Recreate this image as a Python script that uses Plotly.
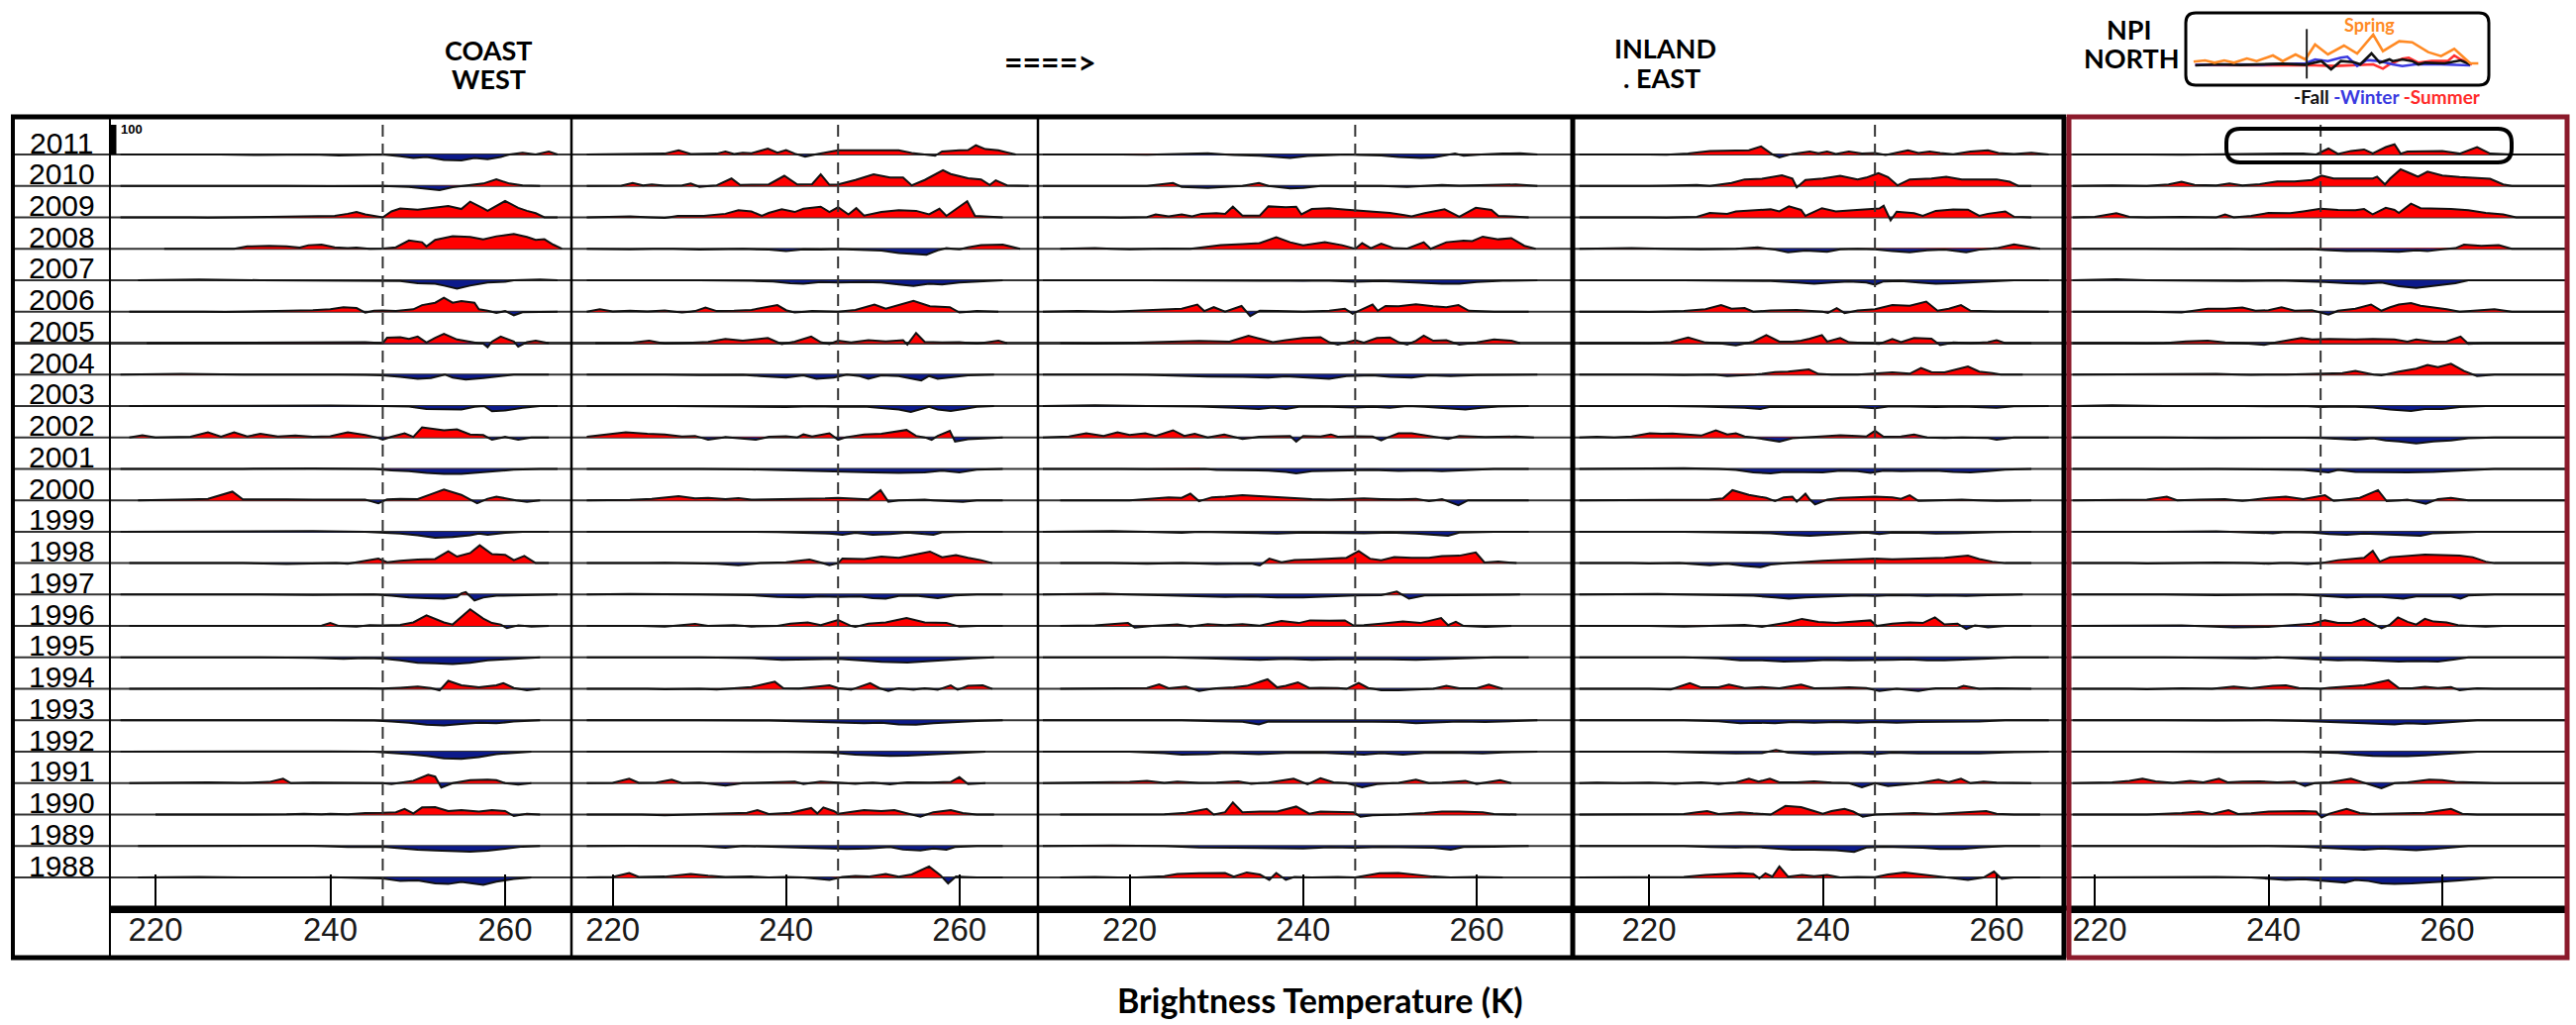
import numpy as np
import plotly.graph_objects as go

W, H = 2601, 1035
YEARS = list(range(2011, 1987, -1))
TICKS = [220, 240, 260]
DASH_T = 246
SCALE_BAR = 100

# ---------------- data: anomaly knots (temperature K, value) per year ----------------
COAST_WEST = {
2011: [(216,0),(225,1),(232,-2),(238,0),(241,-3),(244,0),(246,0),(248,-6),(249.5,-12),(251,-8),(253,-18),(255,-20),(256.5,-12),(258,-16),(259.5,-8),(260.5,0),(262,6),(263.5,0),(265,10),(266,0)],
2010: [(216,0),(230,1),(240,-1),(246,0),(249,-3),(251,-10),(252.5,-14),(254,-4),(256,2),(257.5,8),(259,22),(260.5,8),(262,2),(264,0)],
2009: [(216,0),(222,1),(226,-1),(230,1),(234,2),(237,4),(239,3),(240.5,5),(242,12),(243,18),(244,10),(245.5,4),(246,0),(247,20),(248,30),(250,26),(252,32),(253.5,38),(255,28),(256,53),(257.5,30),(258,22),(260,55),(261.5,32),(262.5,22),(263.5,14),(264.5,0),(266,0)],
2008: [(221,0),(226,1),(229,0),(230.5,8),(233,10),(235,8),(236.5,4),(237.5,12),(239,14),(240.5,5),(242,2),(243,4),(244.5,0),(246,1),(247.5,5),(249,28),(250.5,22),(251,8),(252,30),(254,42),(256,40),(257.5,32),(259,42),(261,50),(262.5,40),(263.5,30),(264.5,32),(265.5,14),(266.5,0)],
2007: [(218,0),(225,2),(232,0),(240,-2),(246,-1),(248,-3),(250,-10),(252,-12),(253,-18),(254.5,-28),(256,-18),(258,-8),(260,-5),(261,0),(264,2),(266,0)],
2006: [(217,0),(223,1),(228,-1),(233,1),(235.5,3),(238,5),(240,8),(241.5,15),(243,12),(244,-3),(245,3),(246,4),(247.5,2),(249.5,8),(250.5,22),(252,30),(253,47),(254,30),(255,36),(256.5,30),(257,8),(258,3),(259,-4),(260,2),(261,-12),(262,-2),(264,0),(266,0)],
2005: [(219,0),(225,1),(230,2),(233,3),(236,1),(239,3),(242,2),(244,3),(246,0),(246.5,18),(248,20),(249,14),(250,22),(251,2),(252,18),(253,31),(254.5,12),(256,3),(257.5,-2),(258,-14),(258.5,5),(259.5,22),(261,5),(261.5,-12),(262.5,3),(263.5,8),(265,0)],
2004: [(216,0),(223,2),(230,0),(238,1),(244,-1),(246,-3),(248,-8),(250,-14),(251.5,-12),(253,1),(254,-10),(255.5,-17),(257.5,-12),(259.5,-5),(261,0),(265,0)],
2003: [(217,0),(225,1),(232,0),(240,1),(246,0),(249,-2),(251,-10),(253,-12),(255,-12),(256.5,-3),(257.5,2),(258.5,-18),(260,-15),(262,-6),(264,0),(266,0)],
2002: [(217,0),(218.5,7),(220,0),(224,2),(226,17),(227.5,2),(229,17),(230.5,3),(232,12),(234,3),(236,6),(238,2),(240,4),(242,17),(244,8),(245,3),(246,-8),(247,2),(248.5,14),(249.5,2),(250.5,34),(252,28),(253,24),(254.5,27),(256,10),(257.5,8),(258.5,-8),(260,2),(261.5,-8),(263,0),(265,0)],
2001: [(216,0),(222,1),(230,0),(238,1),(245,0),(247,-5),(249,-8),(251,-14),(253,-17),(255,-17),(257,-12),(259,-7),(261,-3),(264,0),(266,0)],
2000: [(218,0),(221.5,1),(224,3),(226,5),(228.8,29),(230,3),(232,2),(235,3),(238,2),(241,3),(244,2),(245.5,-10),(246.5,3),(248,5),(250,4),(251.5,20),(253,36),(255,18),(256,3),(256.8,-10),(258,5),(259,12),(260.5,3),(262.5,-5),(264,0)],
1999: [(216,0),(224,1),(230,0),(238,2),(244,0),(246,-2),(248,-6),(250,-12),(252,-20),(254,-18),(256,-12),(257,-6),(258,-10),(260,-4),(262,0),(265,0)],
1998: [(217,0),(223,1),(230,0),(235,-3),(240,1),(242,-2),(244.5,10),(245.5,15),(246.5,3),(248,8),(250,12),(252,14),(253.5,40),(254.5,22),(256,34),(257.1,60),(258.5,30),(260,28),(261,10),(262.2,24),(263.5,0),(265,0)],
1997: [(216,0),(225,1),(232,0),(238,-1),(242,1),(245,0),(247,-4),(249,-10),(251,-12),(253,-14),(254.5,-8),(255,4),(255.5,8),(256.5,-20),(257.5,-10),(259,-4),(261,-3),(264,0),(266,0)],
1996: [(217,0),(224,1),(230,0),(236,2),(239,1),(240,10),(241,0),(243,-2),(244.5,3),(246,2),(248,4),(249.5,12),(251,36),(253,12),(254,5),(256,56),(257.5,25),(258.5,10),(259.5,5),(260.2,-7),(261.5,2),(263,-2),(265,0)],
1995: [(216,0),(225,1),(232,0),(238,-1),(241.5,-5),(244,-2),(246,-4),(248,-10),(250,-18),(252,-20),(254,-22),(256,-18),(258,-10),(260,-6),(262,-2),(264,0)],
1994: [(217,0),(223,1),(228,0),(233,2),(236,1),(240,2),(244,2),(246,1),(248,4),(250,8),(251.5,3),(252.5,-5),(253.5,27),(255,12),(257,5),(259,12),(259.8,19),(261,3),(262.5,-5),(264,0)],
1993: [(216,0),(225,1),(232,0),(240,0),(245,-1),(247,-4),(249,-8),(251,-15),(253,-17),(255,-12),(257,-8),(259,-10),(261,-4),(264,0)],
1992: [(216,0),(225,1),(232,0),(240,1),(245,0),(247,-3),(249,-8),(251,-14),(253,-22),(255,-24),(257,-18),(259,-8),(261,-3),(263,0)],
1991: [(217,0),(222,2),(226,3),(230,1),(233,4),(234.6,15),(235.5,0),(238,2),(241,1),(244,2),(246,0),(247,-3),(248,2),(249.5,8),(251.2,28),(252,22),(252.7,-15),(254,0),(256,10),(258,12),(259,10),(260,0),(261.5,-5),(263,0)],
1990: [(220,0),(225,-1),(230,0),(235,1),(237,3),(239,1),(240,3),(242,1),(244,5),(246,6),(247.5,8),(248.5,19),(249.5,4),(250.5,24),(252,25),(253.5,12),(255,15),(257,10),(258.5,15),(260,12),(261,-5),(262.5,3),(264,0)],
1989: [(218,0),(225,1),(232,0),(238,1),(242,-3),(246,-2),(248,-8),(250,-12),(252,-15),(254,-18),(256,-19),(258,-16),(260,-8),(262,-2),(264,0)],
1988: [(218,0),(225,2),(230,0),(236,-1),(240,1),(244,0),(246,-3),(248,-12),(250,-10),(252,-20),(253.5,-22),(255,-15),(257.5,-25),(259,-14),(261,-5),(263,0)],
}

CENTRAL_1 = {
2011: [(217,0),(222,2),(226,3),(227.6,14),(229,2),(232,3),(233,10),(234,2),(235,6),(236,4),(237.9,20),(239,6),(240,15),(241,3),(242.2,-7),(244,4),(246,14),(250,14),(253,14),(254.5,5),(256,0),(257.2,-4),(258,10),(260,14),(261,15),(261.9,31),(263,18),(264.5,14),(266.5,0)],
2010: [(217,0),(221,1),(222.3,10),(223.5,2),(224.5,5),(226,1),(228,2),(229,8),(230,-3),(232,2),(233.7,25),(234.7,3),(236,4),(238,5),(239.8,34),(241.3,5),(243,6),(244,39),(245,4),(246,5),(248,20),(250.1,39),(252,28),(253.5,28),(254.5,2),(256,20),(258.1,53),(259,40),(261,26),(262.5,22),(263.5,3),(264.2,19),(265.5,2),(268,0)],
2009: [(217,0),(222,3),(226,-2),(227.5,5),(230.5,5),(233,12),(234.5,24),(236,20),(237.2,5),(238,15),(239.5,27),(241,18),(242,29),(244,36),(245,18),(246,34),(247.2,10),(248.1,31),(249,6),(251,18),(253,24),(255,22),(256.5,10),(257.7,29),(258.5,5),(260.9,54),(261.8,5),(264,3),(265,0)],
2008: [(217,0),(222,-2),(226,1),(230,-3),(234,1),(238,-3),(240,-8),(242,-2),(244,-3),(246,-1),(249,-3),(251,-6),(253,-14),(255,-18),(256.2,-20),(257.5,-5),(258.5,2),(260,-2),(261,5),(262.5,12),(265,14),(267,0)],
2007: [(217,0),(224,1),(230,0),(236,-2),(238.5,-4),(240.5,-10),(242,-12),(244,-6),(246,-8),(249,-6),(251,-8),(253,-14),(254.7,-19),(256.5,-12),(258,-14),(260,-8),(261.5,-6),(263,-2),(265,0)],
2006: [(217,0),(218.5,8),(220,1),(222,3),(224,1),(226,4),(228,-3),(229.5,2),(230.7,14),(232,2),(234,3),(236,6),(239,22),(240,5),(241,-3),(243,2),(246,0),(248,6),(250.2,24),(251.5,10),(254.7,36),(256.6,18),(258.9,15),(260,-3),(262,2),(264.5,0)],
2005: [(218,0),(222,1),(224.2,8),(226,-2),(229,1),(231,4),(233,14),(235,8),(237.9,17),(239.5,-3),(241,5),(242.9,22),(244,3),(245,-3),(246,8),(247.5,2),(249.5,10),(251.5,6),(253.5,10),(254,-5),(255,34),(256,4),(258,2),(260,3),(262,-2),(264.5,8),(265.5,0)],
2004: [(217,0),(224,1),(230,-2),(235,-1),(237,-5),(240,-10),(242,-3),(243.5,-14),(245.5,-10),(247,0),(248.5,-5),(249.5,-14),(251,-3),(253,-5),(255.6,-20),(256.5,-5),(257.5,-14),(259,-10),(261,-3),(264,0)],
2003: [(217,0),(224,1),(230,-1),(236,-2),(240,-4),(243,-1),(246,-3),(249,-2),(251,-6),(253,-12),(254.4,-20),(255.5,-10),(256.5,-3),(257.5,-12),(259,-17),(260.5,-10),(262,-3),(264,0)],
2002: [(217,2),(219,8),(221.5,17),(224,12),(226,10),(228,3),(229.5,5),(231,-8),(233,1),(235,-3),(236.5,-8),(238,2),(240,4),(241.3,0),(242,10),(243,3),(245,14),(246,-8),(247,1),(249,10),(251,12),(253.9,25),(255,5),(256,0),(256.8,-8),(257.5,5),(258.9,22),(259.5,-14),(261,-6),(263,-2),(265,0)],
2001: [(217,0),(224,1),(230,0),(236,-2),(241,-5),(244,-6),(247,-10),(250,-12),(253,-14),(256,-12),(258,-6),(260,-12),(262,-3),(265,0)],
2000: [(217,0),(222,1),(224.5,5),(227.6,14),(229.5,6),(231,8),(233,4),(234.5,7),(236,2),(240,3),(242.5,5),(244.5,6),(246,8),(248,6),(249.5,3),(250.9,34),(251.8,-5),(253,0),(256,2),(258,-2),(260.4,-5),(262,0),(265,0)],
1999: [(217,0),(225,1),(232,0),(239,-1),(242,-3),(245,-6),(246.5,-10),(248,-4),(250,-10),(252,-8),(254,-3),(256,-6),(257,-10),(258,-2),(261,0),(265,0)],
1998: [(217,0),(222,-1),(226,1),(230,0),(232,-2),(234.5,-7),(237,0),(240,3),(242.7,12),(244,2),(245,-7),(246,0),(246.5,15),(249,14),(251,22),(253,18),(255,30),(256.6,39),(258,20),(259.6,27),(261,18),(262.5,10),(263.8,0)],
1997: [(217,0),(222,2),(230,0),(236,-2),(239,-8),(242,-10),(244,-6),(246,-8),(248.5,-6),(250,-12),(251.5,-14),(253,-5),(255,-4),(257.5,-12),(259.5,-3),(262,0),(265,0)],
1996: [(217,0),(222,1),(226,-2),(229.5,7),(231,0),(234,3),(236,-2),(239,0),(240.5,8),(242.5,12),(244,3),(246,20),(247.2,2),(248,-3),(249.5,8),(251.5,12),(253.9,27),(256,12),(258.5,10),(260,-2),(262,0),(265,0)],
1995: [(217,0),(224,1),(230,0),(236,-2),(239.5,-8),(243,-6),(246,-5),(248.5,-10),(251,-15),(254,-17),(256.5,-12),(259,-8),(261.5,-3),(264,0)],
1994: [(217,0),(222,1),(226,-1),(229,1),(232,-2),(234.5,2),(236,6),(238.7,24),(239.7,2),(241.5,1),(243.5,6),(245,12),(246,3),(247.5,-3),(249.7,19),(250.8,2),(251.8,-7),(253,2),(254.7,-3),(256,2),(257.5,-3),(259,12),(259.8,-3),(261,10),(262.7,12),(263.8,0)],
1993: [(217,0),(224,1),(230,0),(238,-1),(242,-3),(245,-6),(247,-8),(249,-10),(251,-8),(253,-14),(255,-15),(257,-10),(259.5,-5),(262,-2),(265,0)],
1992: [(217,0),(225,1),(232,0),(240,-1),(245,-2),(248,-10),(250,-13),(252,-14),(254,-13),(256,-10),(258,-5),(260,-3),(263,0)],
1991: [(217,0),(220,1),(221.9,15),(223,1),(225,2),(226.8,12),(228,0),(230,2),(233,-8),(235,0),(238,2),(241,5),(242,-3),(244,5),(246,2),(248,-2),(250,2),(252,-4),(254,3),(256.6,2),(259,4),(260,20),(261,-3),(263,0)],
1990: [(217,0),(222,1),(226,-2),(230,1),(233,2),(235.5,6),(236.7,15),(238,2),(240.5,6),(242.9,22),(243.6,4),(244.3,24),(245.5,12),(246,3),(249,15),(251,12),(252.5,15),(254.5,2),(255.5,-7),(257,8),(259,15),(260.4,5),(262,0),(264,0)],
1989: [(217,0),(222,1),(230,0),(233,-6),(235,0),(238,-2),(241,-5),(244,-7),(247,-10),(249.5,-8),(252,-3),(253.5,-12),(255.5,-15),(257,-8),(258.5,-12),(259.5,-3),(262,0),(265,0)],
1988: [(217,0),(220,2),(221.9,15),(223,2),(226,3),(229,12),(231,6),(233,2),(236,3),(238,0),(240,2),(242,0),(245,-8),(246.5,2),(248,5),(249.5,3),(251.5,12),(253,3),(254.5,10),(256.5,37),(257.8,8),(258.7,-20),(259.6,3),(260.5,2),(262,0),(265,0)],
}

CENTRAL_2 = {
2011: [(210,0),(216,1),(222,-1),(227,3),(229,4),(232,-2),(235,-4),(237,-10),(238.5,-12),(240.5,-5),(243,-3),(245,0),(246.5,-2),(249,-3),(251,-8),(253.6,-12),(255,-10),(256.5,-3),(257.5,3),(258.5,-4),(261,1),(263,3),(265,4),(267,0)],
2010: [(210,0),(216,1),(222,0),(225,10),(226,-3),(229,-7),(231,-3),(233,0),(234.9,10),(236,0),(238.5,-8),(240,-7),(242,0),(246,1),(249,0),(252,-3),(254,0),(256,3),(258,1),(261,3),(264.5,5),(267,0)],
2009: [(210,0),(215,1),(219,-1),(222,1),(223,10),(224.5,3),(226,10),(227.2,3),(228.3,12),(230,14),(231,12),(231.9,36),(233,6),(235,6),(236,37),(238,34),(239.2,36),(239.8,10),(241,28),(243,31),(245,26),(246,24),(248,18),(250,15),(251.5,8),(252.5,3),(254,14),(256.3,27),(258,2),(259.9,32),(261.7,25),(262.5,5),(264,3),(266,0)],
2008: [(212,0),(216,2),(220,-2),(224,1),(227,0),(228.5,6),(230.5,12),(233,16),(235,19),(236.9,39),(238.5,22),(240,12),(242.5,22),(244.5,12),(246,0),(246.8,19),(247.8,2),(249,17),(250.5,2),(252,1),(253.9,22),(254.7,0),(256.5,22),(258.5,27),(259.5,26),(260.7,41),(262.5,32),(264,36),(265.5,10),(266.8,0)],
2007: [(210,0),(216,1),(222,0),(228,-1),(235,-2),(240,-4),(243,-2),(246,-5),(249,-3),(251,-5),(254,-10),(256,-12),(258,-12),(260,-6),(263,-2),(267,0)],
2006: [(210,0),(214,2),(218,0),(221,3),(224,6),(226,10),(227.8,24),(228.6,2),(229.7,15),(231,0),(232.9,19),(233.9,-15),(235,3),(237,2),(240,0),(243,3),(244.8,10),(245.7,-7),(246.6,5),(248,24),(248.6,3),(249.5,19),(251,18),(253,25),(255,18),(256.5,15),(257.9,22),(259.1,3),(262,0),(266,0)],
2005: [(212,0),(216,-2),(220,1),(224,5),(228,7),(231.5,5),(233.7,25),(235,15),(236.5,3),(238,10),(240,17),(242,20),(243,3),(244,-5),(246,10),(247,2),(248.5,17),(250,19),(251,3),(252,-5),(253,8),(253.9,25),(255,8),(256.5,10),(258,-5),(260,2),(262,12),(264,8),(265,0)],
2004: [(210,0),(216,1),(222,-1),(226,-5),(229,-7),(233,-8),(236,-10),(238,-6),(241,-10),(243,-14),(245,-5),(248,-3),(250,-8),(252.5,-10),(254.5,-3),(257,-5),(260,-2),(264,-2),(267,0)],
2003: [(210,0),(216,2),(222,0),(228,-2),(232,-6),(234.9,-10),(236.5,-5),(238,-10),(239.5,-3),(242,-2),(246,-5),(248,-3),(250,-6),(252,0),(254,-3),(257.5,-10),(258.7,-12),(260.5,-6),(262.5,-2),(266,0)],
2002: [(210,0),(213,3),(215,14),(217,5),(218.6,17),(220,8),(221.8,14),(223,5),(225,24),(226.3,5),(227.5,12),(229,0),(230.9,10),(232,3),(233,-5),(234.9,2),(237,4),(238.5,5),(239.2,-14),(240,5),(242,3),(243.2,10),(244,2),(246,4),(248,3),(249,-10),(250,3),(251,14),(252.5,14),(254,8),(256.7,-5),(258,5),(261,1),(264.5,3),(266.6,0)],
2001: [(210,0),(216,1),(222,-1),(228,2),(230,-4),(233,-6),(236,-6),(238,-10),(239.2,-15),(241,-8),(244,-6),(246,-7),(248,-4),(251,-7),(254,-5),(256,-8),(259,-3),(262,0),(266,0)],
2000: [(212,0),(216,1),(220,0),(224.5,10),(226,8),(227,22),(228,-3),(229.5,10),(231,12),(233,17),(235,14),(237,10),(239,8),(241,4),(243,2),(245,5),(247,6),(249,4),(251,3),(253,5),(254.5,-3),(256,4),(257.9,-17),(259,0),(262,0),(266,0)],
1999: [(210,0),(218,2),(222,0),(226,-4),(228,0),(234,-3),(237,-6),(240,-3),(244,-4),(247,-5),(250,-3),(253,-6),(256.7,-14),(258,-3),(262,0),(266,0)],
1998: [(212,0),(216,1),(222,-2),(226,0),(230,-3),(234,-1),(235,-8),(236.1,15),(237.5,3),(239,10),(241,12),(243,14),(245,18),(246.4,41),(247.7,15),(249,10),(250.5,20),(252.5,18),(254.5,18),(256,24),(258,25),(259.9,36),(260.9,2),(262.5,5),(264.6,0)],
1997: [(210,0),(214,1),(217,3),(220,0),(225,-3),(228,-5),(231,-8),(234,-6),(237,-10),(240,-10),(243,-6),(246,-3),(249,-2),(250.8,10),(252.2,-14),(254,-3),(257,-2),(260,0),(265,0)],
1996: [(212,0),(216,2),(219.8,10),(220.6,-5),(223,1),(225.5,5),(227,-2),(229,6),(231,3),(233,6),(235,1),(237.5,17),(239.5,10),(240.8,19),(243,18),(244.8,19),(245.8,2),(247,3),(249,8),(251.5,15),(253.5,10),(255.9,27),(256.7,3),(257.6,14),(258.5,0),(261,-3),(264,0)],
1995: [(210,0),(218,1),(224,0),(229,-3),(232,-6),(235,-8),(238,-5),(241,-8),(244,-6),(247,-5),(250,-6),(253,-8),(256,-5),(259,-3),(262,0),(266,0)],
1994: [(212,0),(216,1),(220,0),(222,3),(223.4,15),(224.5,2),(226.5,8),(228,-7),(230,2),(232,5),(233.5,10),(235.9,32),(237,5),(238,10),(239.4,22),(240.7,3),(242,4),(244,3),(245,0),(246.4,20),(247.5,3),(249,-5),(251,-5),(253,-3),(255,0),(256.5,10),(258,2),(260,2),(261.4,14),(263,0)],
1993: [(210,0),(218,1),(222,2),(226,0),(230,-3),(233,-5),(234.9,-14),(236,-4),(239,-5),(242,-6),(245,-5),(248,-5),(251,-6),(253,-10),(255,-8),(258,-4),(261,-6),(264,-2),(267,0)],
1992: [(210,0),(216,1),(220,0),(224,-5),(226,-10),(229,-8),(231,-4),(234.9,-8),(238,-4),(242,-3),(245,-6),(247,-10),(249,-5),(251.5,-10),(254,-4),(257,-3),(260.7,-6),(263,-2),(267,0)],
1991: [(210,0),(214,2),(217,1),(220,4),(222,8),(224,1),(225.5,5),(228,1),(230,2),(232.5,6),(234,-2),(236,2),(238.9,15),(240.5,-4),(242,17),(243.5,3),(245,0),(246.8,-14),(248.5,-3),(251,1),(253,12),(254.5,0),(256,2),(258.7,8),(260,-3),(262.7,10),(264,0)],
1990: [(212,0),(216,1),(220,0),(224,1),(226.5,6),(228.9,19),(229.7,0),(231,8),(231.9,41),(233,8),(235,10),(237,10),(239.2,27),(240.7,3),(242,10),(244,10),(245.8,8),(246.6,-7),(248,-2),(251,0),(254,5),(256,10),(258,10),(260.7,8),(262,2),(264.6,0)],
1989: [(210,0),(218,2),(224,0),(228,-5),(232,-6),(236,-8),(240,-8),(243,-4),(246,-6),(249,-3),(252,-4),(255,-6),(257,-12),(258.5,-3),(262,-2),(266,0)],
1988: [(212,0),(216,2),(220,-1),(224,4),(225.5,12),(228,14),(231,15),(232,3),(233.5,17),(235,10),(236.1,-8),(236.9,15),(238,-8),(239,2),(241,0),(244,2),(246,0),(248.8,14),(251,15),(253,8),(255,3),(257,0),(260,2),(263,0)],
}

INLAND_EAST = {
2011: [(212,0),(218,1),(222,-1),(224.5,3),(227,12),(230,14),(231.5,14),(232.9,27),(234,3),(235,-10),(236.5,2),(238.5,10),(239.5,4),(240.5,10),(241.5,2),(243,10),(244.5,3),(246,5),(247.2,-2),(249.8,14),(251,5),(252.3,10),(253.5,5),(255,1),(257,10),(259,14),(260.2,5),(262,2),(264,6),(266,0)],
2010: [(212,0),(218,-1),(222,1),(225.5,3),(227,0),(229.5,10),(231,22),(233,24),(235.3,36),(236.5,25),(237,-5),(238,20),(240,25),(242,34),(244,22),(245,28),(246.4,43),(247.5,30),(248.6,2),(250,22),(252.5,25),(254.2,31),(256,22),(258,22),(260,22),(261.5,14),(262.5,0),(264,0)],
2009: [(212,0),(218,1),(222,-1),(225.5,2),(227,15),(229,12),(230,20),(232,24),(234,27),(235,20),(236.1,37),(237.5,25),(238,5),(239.9,31),(241.5,20),(243.5,24),(245.5,28),(246.5,30),(247,39),(247.8,-10),(248.5,19),(250.5,14),(251.5,5),(253,22),(255,27),(256.7,26),(258,5),(259,12),(261,20),(262,2),(264,0)],
2008: [(212,0),(218,2),(222,0),(226,-2),(230,0),(232.5,5),(234.5,-3),(236,-12),(238,-6),(240.5,-10),(242,-2),(244,0),(246,-2),(248,-8),(250,-12),(252,-5),(254,-3),(256.5,-12),(258,-3),(260,2),(262,15),(263.5,8),(265,0)],
2007: [(212,0),(218,1),(224,0),(230,-2),(234,-3),(237,-8),(239,-12),(241,-8),(243,-4),(245,-8),(246,-15),(247,-4),(249,-3),(251,-8),(253,-12),(255,-10),(257.5,-6),(259,-3),(262,0),(266,0)],
2006: [(212,0),(216,1),(220,-1),(224,2),(226.5,8),(228.3,22),(229.5,10),(231,12),(232,0),(234,4),(237,6),(239.5,3),(240.6,-4),(241.6,12),(242.5,-5),(244,4),(246,8),(248,22),(250,20),(251.9,34),(253.2,3),(254.5,10),(255.9,22),(257,3),(260,1),(264,2),(266,0)],
2005: [(212,0),(216,1),(220,-1),(222.5,3),(224.5,19),(226.5,2),(228,0),(230,-8),(232,5),(233.5,27),(235,5),(236.5,5),(237.5,8),(238.5,15),(239.9,27),(240.5,5),(242,17),(243,3),(245,0),(246.5,-3),(248,14),(249,3),(250.5,17),(252.5,15),(253.5,-7),(255,2),(257,0),(259,3),(260,10),(261,0),(264,0)],
2004: [(212,0),(216,1),(220,0),(224,-2),(227.5,0),(229,-5),(231,-3),(233,2),(234.5,8),(236,10),(237,12),(238.4,17),(239.5,2),(241,0),(244,0),(246,4),(248,7),(250,3),(251.3,22),(252.5,8),(254,7),(256.7,27),(258,10),(259.5,5),(260.5,0),(263,0)],
2003: [(212,0),(218,1),(222,0),(226,-2),(229,-3),(231,-6),(232.8,-10),(234,-3),(236,-4),(240,-3),(244,-4),(246,-8),(247.5,-2),(250,-2),(253,-4),(256,-2),(258,-4),(260,-6),(262,-1),(266,0)],
2002: [(212,0),(214,2),(216,0),(218,3),(220.1,14),(221.5,12),(222.7,13),(224.5,10),(226,6),(227.7,24),(229,10),(230,14),(231,3),(232,0),(234,-8),(235,-14),(236.5,-3),(238,0),(240,2),(242,7),(244,5),(245,3),(246,22),(247,2),(249,3),(250.5,10),(252,0),(254,-2),(256,0),(259,-2),(260,-8),(262,0),(266,0)],
2001: [(212,0),(218,1),(224,2),(228,0),(230,-4),(232,-12),(234,-15),(235.5,-10),(237.5,-12),(240,-12),(242,-6),(244,-8),(245.5,-14),(247,-6),(249,-8),(251,-7),(253,-6),(255,-10),(257,-12),(259,-8),(261,-3),(264,0)],
2000: [(212,0),(216,1),(220,0),(224,1),(227,2),(228.5,6),(229.6,34),(231.5,18),(233.5,8),(234.5,-3),(235.5,10),(236.5,12),(237,-5),(238,22),(238.5,3),(239.1,-14),(240.5,2),(242,8),(244,10),(246,12),(248,10),(249,5),(250,17),(251,-2),(253,0),(256,2),(260,-2),(264,0)],
1999: [(212,0),(218,1),(224,0),(228,-2),(231,-3),(234,-5),(236,-10),(238.5,-14),(240.5,-10),(243,-5),(245,-3),(246.5,-8),(248,-3),(251,-4),(253,-6),(255.5,-5),(257.5,-3),(260,-1),(264,0)],
1998: [(212,0),(216,1),(220,-1),(223.5,0),(225,-3),(227,-7),(229,-2),(231,-10),(232.8,-14),(234,-5),(236,0),(238,5),(240,8),(242,10),(244,12),(246,15),(248,13),(250,14),(252,15),(254,18),(256.7,25),(258,14),(259.5,5),(261,0),(264,0)],
1997: [(212,0),(216,1),(221,2),(224,0),(228,-2),(232,-4),(234.5,-10),(236.1,-14),(238,-10),(240,-8),(242,-6),(244,-3),(246,-5),(248,-2),(250,-3),(252,-5),(254,-3),(256.5,-5),(259,-2),(263,0)],
1996: [(212,0),(216,1),(220,0),(224,-2),(226,0),(229,2),(231,4),(233,-3),(234.5,5),(236,12),(237.6,24),(239.5,14),(241.5,10),(243.5,14),(245.5,19),(246.2,0),(248,8),(250,12),(251.5,10),(252.9,29),(254,5),(255.5,8),(256.5,-10),(257.5,2),(259,-5),(261,0),(264,0)],
1995: [(212,0),(218,1),(224,0),(228,-3),(230.5,-10),(233,-10),(235.5,-14),(238,-12),(240.5,-8),(243,-10),(246,-10),(248,-8),(250,-6),(252,-10),(254,-10),(256.5,-8),(259,-4),(262,0),(266,0)],
1994: [(212,0),(216,1),(220,0),(222.5,-2),(224.7,19),(226,5),(228,5),(229.2,14),(231,3),(233,6),(235,2),(237.5,14),(239,2),(241,3),(243,5),(245,3),(246.5,-7),(248.5,0),(251,-7),(253,2),(255.5,3),(256.2,10),(258,0),(260,2),(264,0)],
1993: [(212,0),(218,1),(224,0),(228,-3),(230.5,-10),(232.5,-8),(234.5,-10),(236.5,-6),(239,-8),(241.5,-6),(244,-8),(246,-6),(248.5,-8),(251,-6),(253.5,-5),(256,-6),(258,-4),(261,0),(266,0)],
1992: [(212,0),(218,1),(222,0),(226,-3),(230,-6),(233,-5),(234.6,6),(236,-3),(239,-8),(241,-6),(244,-4),(246,-8),(248,-3),(251,-6),(253,-6),(256,-4),(258,-6),(261,-2),(266,0)],
1991: [(212,0),(214,2),(217,0),(220,2),(223,-2),(226,3),(228,-3),(230,3),(231.5,15),(232.6,5),(233.9,15),(235,3),(237,3),(239,6),(241,2),(243,0),(244.5,-14),(246,0),(247.5,-10),(249.5,-5),(251,0),(253.3,12),(254.5,4),(255.9,15),(257,0),(258.5,5),(260,2),(264,0)],
1990: [(212,0),(216,1),(220,0),(224,2),(225.5,8),(226.7,12),(228,2),(230.5,8),(232,4),(234,0),(235.7,29),(237.5,25),(239,12),(240,3),(241,12),(242.5,19),(243.5,10),(244.6,-7),(246,0),(248,2),(250.5,5),(253,2),(255,6),(257,10),(258.8,12),(260,3),(262,0),(265,0)],
1989: [(212,0),(218,1),(224,0),(227,-3),(230,-5),(232,-3),(234,-7),(236.5,-12),(239,-12),(241.5,-14),(243.6,-20),(245,-5),(247,-2),(249,-3),(251.5,-6),(253.5,-10),(256,-10),(258,-5),(261,0),(265,0)],
1988: [(212,0),(216,1),(220,0),(224,2),(226.5,8),(228.5,12),(230.5,14),(232,12),(232.7,-3),(233.4,14),(234.2,3),(235,37),(236,3),(237.6,8),(239,4),(240.5,8),(242,0),(244,2),(246,1),(247.5,10),(249.4,17),(251,12),(252.9,4),(255,-3),(256.7,-8),(258.5,0),(259.7,20),(260.6,-5),(262,0),(265,0)],
}

NPI_NORTH = {
2011: [(217.5,0),(222,1),(226,0),(230,-1),(234,1),(237,3),(240,2),(242,3),(244,3),(245.5,0),(246.9,20),(248,2),(249.5,12),(251,17),(252,4),(253.5,25),(254.5,34),(255.2,3),(256,10),(258,12),(260,12),(262,3),(264,25),(265.5,3),(268,0),(274.5,0)],
2010: [(217.5,0),(222,2),(226,0),(228.5,5),(230,14),(231.5,3),(234,2),(235.5,8),(237,2),(239,6),(241,15),(243,15),(245,20),(246.1,35),(247.5,25),(250,24),(252,25),(252.5,31),(253.4,5),(254,25),(255.2,56),(256.5,40),(257.2,31),(258.3,48),(260,35),(262,30),(264,26),(265.5,24),(267,5),(268,0),(274.5,0)],
2009: [(217.5,0),(220,2),(222.5,14),(224,2),(226,0),(230,2),(234,0),(235,10),(236,0),(238,5),(240,15),(242.5,14),(244,20),(246,29),(248,25),(250,24),(251,28),(252,10),(253.5,32),(254.5,25),(255,15),(256.4,46),(257.5,31),(259,30),(261,28),(263,24),(265,15),(267,10),(268.5,0),(274.5,0)],
2008: [(217.5,0),(222,1),(226,0),(230,-1),(234,1),(238,-2),(242,0),(245,-1),(246.5,-4),(249,-8),(252,-8),(255,-10),(257,-5),(258.3,-8),(260,-2),(261.5,2),(262.5,14),(264.5,10),(266.5,12),(268,0),(274.5,0)],
2007: [(217.5,0),(220,2),(222.5,3),(226,0),(232,-1),(237,-3),(241,-1),(244,-3),(246.5,-6),(249,-10),(251,-12),(253,-8),(255,-20),(257,-26),(259,-20),(261.5,-10),(263,0),(274.5,0)],
2006: [(217.5,0),(222,1),(226,0),(230,-3),(231.5,4),(233,10),(235,10),(237,14),(238.5,3),(240,5),(241.5,15),(243,3),(245,5),(246.9,-10),(248,3),(250,10),(251.8,24),(253,3),(254,15),(255,24),(256.4,29),(257.5,20),(259,15),(260.5,8),(262,0),(266,8),(268,0),(274.5,0)],
2005: [(217.5,0),(222,1),(226,-2),(228,0),(230.5,6),(233,8),(235,2),(237,0),(239.5,-6),(241,3),(243.8,17),(245,12),(247,14),(250,12),(252,14),(254.5,12),(256,5),(257,12),(259,5),(260.5,6),(262.1,22),(263,-3),(265,0),(274.5,0)],
2004: [(217.5,0),(222,1),(228,0),(234,2),(238,-1),(242,0),(246,2),(248.5,5),(250,12),(251.5,2),(253,-3),(255,10),(257,20),(258.3,32),(259.5,25),(261,36),(262.5,12),(264,-5),(266,0),(274.5,0)],
2003: [(217.5,0),(222,2),(228,0),(234,1),(240,-1),(244,0),(246,-4),(248,-2),(250,-3),(252,-5),(254,-12),(256.4,-17),(258,-10),(260,-10),(262,-4),(265,0),(274.5,0)],
2002: [(217.5,0),(222,1),(228,0),(234,-2),(240,0),(244,-1),(246,-2),(248,-6),(250,-8),(252,-3),(253.5,-10),(255,-14),(257,-20),(259,-14),(261,-10),(263,-3),(266,0),(274.5,0)],
2001: [(217.5,0),(222,1),(228,-1),(234,0),(240,-2),(244,-4),(246.9,-12),(248,-4),(250,-10),(253,-12),(256,-12),(259,-10),(262,-6),(264,-2),(266,0),(274.5,0)],
2000: [(217.5,0),(222,1),(226,2),(228.3,12),(229.5,0),(232,2),(235,4),(237,-2),(240,8),(242,12),(244,4),(246.5,17),(247.5,-2),(249,3),(250.5,8),(252.6,34),(253.6,-3),(256,2),(258.1,-12),(259.5,4),(261,8),(263,0),(266,0),(274.5,0)],
1999: [(217.5,0),(222,1),(228,0),(234,1),(238,-2),(240.5,-5),(242,-1),(245,-3),(247,-8),(249,-10),(251,-6),(253,-8),(255,-10),(257.5,-14),(259,-5),(261,-3),(264,0),(274.5,0)],
1998: [(217.5,0),(222,1),(226,-1),(230,0),(234,2),(238,0),(240,-2),(242,1),(244.5,-3),(246,0),(248,10),(250,14),(251,18),(252,41),(252.8,5),(254,20),(256,25),(258,29),(260,27),(262,25),(263.5,20),(265,5),(266,0),(274.5,0)],
1997: [(217.5,0),(222,1),(228,0),(234,-2),(238,0),(242,1),(245,-2),(247,-6),(249,-10),(251,-8),(253,-8),(255.5,-14),(257,-6),(259,-6),(261,-6),(262.1,-14),(263,-3),(266,0),(274.5,0)],
1996: [(217.5,0),(222,1),(226,0),(230,2),(233,-2),(236,-5),(240,-3),(242,1),(243.5,5),(245,8),(246.5,19),(248,10),(249.5,10),(251,24),(252,8),(253,-8),(254,5),(254.9,29),(256,14),(257,5),(258,24),(259,15),(260.5,12),(261.8,3),(263,0),(265,-2),(267,0),(274.5,0)],
1995: [(217.5,0),(222,1),(228,0),(234,-1),(238.5,-3),(241,0),(243,-3),(246,-8),(248,-10),(250,-8),(253,-12),(255,-14),(257,-12),(259.5,-14),(261.5,-6),(263,0),(274.5,0)],
1994: [(217.5,0),(222,1),(226,-1),(230,2),(233.5,0),(236,8),(238,2),(240.5,10),(242,12),(243.5,3),(246,0),(247,4),(249,8),(251,12),(252,18),(253.8,29),(255,3),(256.5,2),(258,7),(259.5,3),(261,6),(262,-5),(264,2),(266,0),(274.5,0)],
1993: [(217.5,0),(222,1),(228,0),(234,-1),(240,0),(244,-2),(246.5,-4),(249,-8),(251,-10),(253,-12),(254.5,-14),(256,-10),(258,-12),(260,-8),(262,-4),(264,0),(274.5,0)],
1992: [(217.5,0),(222,1),(228,0),(234,-1),(240,0),(244,-1),(246,-2),(248,-4),(250,-10),(252,-14),(254,-15),(256,-15),(258,-12),(260,-8),(262,-3),(264,0),(274.5,0)],
1991: [(217.5,0),(220,2),(222,3),(224,8),(225.5,15),(227,6),(229,1),(231,8),(232.5,3),(234.3,15),(235.3,3),(237,5),(239,6),(241,3),(243,5),(244.2,-10),(245.3,0),(247,3),(249.5,15),(251,2),(253,-17),(254.5,0),(256,3),(258.5,12),(260,10),(261.5,4),(263,2),(266,0),(274.5,0)],
1990: [(217.5,0),(222,1),(226,0),(230,5),(232,10),(233.5,2),(235.4,15),(236.5,2),(238,4),(240,10),(242,12),(244,12),(245.5,10),(246.1,-10),(247,3),(249,19),(250.5,5),(252,2),(255,4),(258,6),(261,19),(262.3,3),(264,0),(274.5,0)],
1989: [(217.5,0),(222,1),(228,0),(234,-1),(240,0),(244,-2),(246,-5),(249,-10),(251,-12),(253,-8),(255,-12),(257,-14),(259,-10),(261,-4),(263,0),(274.5,0)],
1988: [(217.5,0),(222,1),(228,0),(234,2),(238,0),(240,-3),(242,-8),(244,-6),(246,-10),(247.5,-12),(248.8,-17),(250,-8),(251.5,-12),(253,-20),(254.5,-22),(256.5,-20),(258,-18),(260,-14),(262,-10),(264,-4),(266,0),(274.5,0)],
}

# inset (NPI seasonal lines, arbitrary position units / anomaly units)
SPRING_X = [0,4,7.3,10.7,14.1,18.6,22,27.7,31.1,35.6,39,42.4,46.9,52.5,57.1,62.7,66.1,71.8,76.3,81.9,86.4,91,94.4,96.6,99.4]
SPRING_Y = [10,14,7,14,7,20,12,29,12,32,17,62,32,59,35,92,42,72,69,39,27,49,22,5,5]
FALL_X = [0.6,8.5,16.4,24.3,31.1,39,42.4,44.6,48,51.4,55.9,58.2,62.1,65,68.4,69.5,72.9,76.3,78.5,80.8,87.6,93.2,96.6]
FALL_Y = [-1,2,0,2,4,1,7,12,-13,12,9,2,35,7,17,12,17,12,2,7,5,14,2]
WINTER_X = [0.6,13,24.3,32.2,39,42.4,46.9,51.4,53.7,57.1,60.5,65,69.5,72.9,77.4,86.4,96.6]
WINTER_Y = [0,2,1,4,5,17,12,22,25,-3,15,12,2,-3,2,2,-1]
SUMMER_X = [0.6,18.6,35.6,42.4,49.2,58.2,62.7,66.1,68.4,72.9,75.1,78.5,83.1,88.7,91,93.2,97.2]
SUMMER_Y = [0,0,-1,-1,-3,0,2,-11,2,19,22,7,12,12,29,17,2]
INSET_MARK_X = 39.5

PANELS = [COAST_WEST, CENTRAL_1, CENTRAL_2, INLAND_EAST, NPI_NORTH]

# ---------------- layout geometry (pixels) ----------------
PANEL_PX = [(111, 577), (577, 1048), (1048, 1588), (1588, 2085), (2088, 2593)]
TICK_PX = [(157.0, 510.0), (618.7, 968.7), (1140.6, 1491.0), (1665.0, 2016.0), (2115.0, 2466.0)]
TOP_PX, AXIS_PX, BOTTOM_PX = 118, 917, 967
LEFT_PX, RIGHT_PX = 13, 2593
BASE0_PX, ROW_PX = 156.0, 31.74
UNITS_PER_PX = SCALE_BAR / 30.0
ROW_U = ROW_PX * UNITS_PER_PX
Y_TOP = (BASE0_PX - TOP_PX) * UNITS_PER_PX
Y_BOT = -(AXIS_PX - BASE0_PX) * UNITS_PER_PX

RED = '#ff0000'
BLUE = '#0c1a8a'
DARKRED = '#8b1a2b'


def px(x):
    return x / W


def py(y):
    return 1 - y / H


def prep(knots):
    x = [k[0] for k in knots]
    v = [k[1] for k in knots]
    xs, vs = [x[0]], [v[0]]
    for j in range(1, len(x)):
        if v[j - 1] * v[j] < 0:
            xc = x[j - 1] + (x[j] - x[j - 1]) * v[j - 1] / (v[j - 1] - v[j])
            xs.append(xc)
            vs.append(0.0)
        xs.append(x[j])
        vs.append(v[j])
    return np.array(xs, float), np.array(vs, float)


fig = go.Figure()

for p, data in enumerate(PANELS):
    ax = '' if p == 0 else str(p + 1)
    rx, ry, bx, by, lx, ly = [], [], [], [], [], []
    for i, yr in enumerate(YEARS):
        off = -i * ROW_U
        xs, vs = prep(data[yr])
        pos = np.maximum(vs, 0)
        neg = np.minimum(vs, 0)
        rx += list(xs) + [xs[-1], xs[0], None]
        ry += list(off + pos) + [off, off, None]
        bx += list(xs) + [xs[-1], xs[0], None]
        by += list(off + neg) + [off, off, None]
        lx += list(xs) + [None]
        ly += list(off + vs) + [None]
    common = dict(xaxis='x' + ax, yaxis='y' + ax, hoverinfo='skip', showlegend=False)
    fig.add_trace(go.Scatter(x=rx, y=ry, mode='lines', fill='toself', fillcolor=RED,
                             line=dict(width=0, color=RED), **common))
    fig.add_trace(go.Scatter(x=bx, y=by, mode='lines', fill='toself', fillcolor=BLUE,
                             line=dict(width=0, color=BLUE), **common))
    fig.add_trace(go.Scatter(x=lx, y=ly, mode='lines', line=dict(width=2, color='#111111'),
                             connectgaps=False, **common))

# inset
for xs_, ys_, col in [(SUMMER_X, SUMMER_Y, '#ff3030'), (WINTER_X, WINTER_Y, '#3a3ae0'),
                      (FALL_X, FALL_Y, '#111111'), (SPRING_X, SPRING_Y, '#ff8a24')]:
    fig.add_trace(go.Scatter(x=xs_, y=ys_, mode='lines', line=dict(width=2.6, color=col),
                             xaxis='x6', yaxis='y6', hoverinfo='skip', showlegend=False))

layout = dict(
    width=W, height=H, margin=dict(l=0, r=0, t=0, b=0),
    paper_bgcolor='white', plot_bgcolor='rgba(0,0,0,0)', showlegend=False,
)

for p in range(5):
    L, R = PANEL_PX[p]
    t220, t260 = TICK_PX[p]
    slope = (t260 - t220) / 40.0
    tl = 220 + (L - t220) / slope
    tr = 220 + (R - t220) / slope
    ax = '' if p == 0 else str(p + 1)
    layout['xaxis' + ax] = dict(
        domain=[px(L), px(R)], range=[tl, tr], anchor='y' + ax,
        tickvals=TICKS, ticks='inside', ticklen=34, tickwidth=2, tickcolor='black',
        showline=True, linewidth=5, linecolor='black', showgrid=False, zeroline=False,
        tickfont=dict(family='Liberation Sans, Arial, sans-serif', size=33, color='#1a1a1a'),
        ticklabelstandoff=-12, ticklabelshift=5 if p == 4 else 0,
    )
    layout['yaxis' + ax] = dict(domain=[py(AXIS_PX), py(TOP_PX)], range=[Y_BOT, Y_TOP],
                                anchor='x' + ax, visible=False)

layout['xaxis6'] = dict(domain=[px(2212), px(2507)], range=[-1, 101], visible=False, anchor='y6')
layout['yaxis6'] = dict(domain=[py(80), py(27)], range=[-43, 116], visible=False, anchor='x6')

shapes = []
# baselines
for i, yr in enumerate(YEARS):
    off = -i * ROW_U
    shapes.append(dict(type='line', xref='paper', yref='y', x0=px(LEFT_PX), x1=px(RIGHT_PX),
                       y0=off, y1=off, line=dict(color='#333333', width=3 if yr == 2005 else 2),
                       layer='below'))
# dashed reference lines
for p in range(5):
    ax = '' if p == 0 else str(p + 1)
    shapes.append(dict(type='line', xref='x' + ax, yref='paper', x0=DASH_T, x1=DASH_T,
                       y0=py(AXIS_PX), y1=py(123), line=dict(color='#333333', width=2, dash='12px,7px'),
                       layer='above'))
# scale bar
shapes.append(dict(type='line', xref='paper', yref='y', x0=px(114.5), x1=px(114.5), y0=0, y1=SCALE_BAR,
                   line=dict(color='black', width=6)))


def vline(x, y0, y1, w, c='black'):
    return dict(type='line', xref='paper', yref='paper', x0=px(x), x1=px(x), y0=py(y0), y1=py(y1),
                line=dict(color=c, width=w))


def hline(y, x0, x1, w, c='black'):
    return dict(type='line', xref='paper', yref='paper', x0=px(x0), x1=px(x1), y0=py(y), y1=py(y),
                line=dict(color=c, width=w))


shapes += [
    hline(TOP_PX, LEFT_PX - 2, 2086, 5), hline(BOTTOM_PX, LEFT_PX - 2, 2086, 5),
    vline(LEFT_PX, TOP_PX, BOTTOM_PX, 4), vline(111, TOP_PX, BOTTOM_PX, 2),
    vline(577, TOP_PX, BOTTOM_PX, 2.5), vline(1048, TOP_PX, BOTTOM_PX, 2.5),
    vline(1588, TOP_PX, BOTTOM_PX, 5), vline(2084, TOP_PX, BOTTOM_PX, 5),
    hline(AXIS_PX, 111, 2591, 5),
    dict(type='rect', xref='paper', yref='paper', x0=px(2089), x1=px(2592), y0=py(BOTTOM_PX), y1=py(TOP_PX),
         line=dict(color=DARKRED, width=5)),
]


def rrect(x0, y0, x1, y1, r, w, c='black'):
    rx_, ry_ = r / W, r / H
    X0, X1, Y0, Y1 = px(x0), px(x1), py(y0), py(y1)
    path = (f'M {X0+rx_},{Y0} L {X1-rx_},{Y0} Q {X1},{Y0} {X1},{Y0-ry_} '
            f'L {X1},{Y1+ry_} Q {X1},{Y1} {X1-rx_},{Y1} L {X0+rx_},{Y1} '
            f'Q {X0},{Y1} {X0},{Y1+ry_} L {X0},{Y0-ry_} Q {X0},{Y0} {X0+rx_},{Y0} Z')
    return dict(type='path', xref='paper', yref='paper', path=path, line=dict(color=c, width=w))


shapes.append(rrect(2207, 13, 2513, 86, 10, 3))
shapes.append(rrect(2248, 130, 2536, 164, 14, 4))
shapes.append(dict(type='line', xref='x6', yref='y6', x0=INSET_MARK_X, x1=INSET_MARK_X, y0=-41, y1=109,
                   line=dict(color='#222222', width=2)))
layout['shapes'] = shapes

TF = 'Lato, Open Sans, sans-serif'
ann = []
for i, yr in enumerate(YEARS):
    off = -i * ROW_U
    ann.append(dict(text=str(yr), xref='paper', yref='y', x=px(62), y=off + 12 * UNITS_PER_PX,
                    xanchor='center', yanchor='middle', showarrow=False,
                    font=dict(family='Liberation Sans, Arial, sans-serif', size=30, color='black')))
ann += [
    dict(text='<b>COAST</b>', x=px(493), y=py(51), size=27),
    dict(text='<b>WEST</b>', x=px(493), y=py(79), size=27),
    dict(text='<b>====></b>', x=px(1060), y=py(63), size=32),
    dict(text='<b>INLAND</b>', x=px(1681), y=py(48), size=27),
    dict(text='<b>. EAST</b>', x=px(1678), y=py(78), size=27),
    dict(text='<b>NPI</b>', x=px(2150), y=py(29), size=27),
    dict(text='<b>NORTH</b>', x=px(2152), y=py(59), size=27),
    dict(text='<b>Spring</b>', x=px(2392), y=py(25), size=18, color='#ff8a24'),
    dict(text='<b><span style="color:#111">-Fall</span> <span style="color:#3a3ae0">-Winter</span> '
              '<span style="color:#ff2a2a">-Summer</span></b>', x=px(2410), y=py(97), size=19),
    dict(text='<b>100</b>', x=px(120), y=py(131), size=13, xanchor='left', family='Liberation Sans, Arial'),
    dict(text='<b>Brightness Temperature (K)</b>', x=px(1333), y=py(1009), size=34),
]
final_ann = []
for a in ann:
    if 'xref' in a:
        final_ann.append(a)
        continue
    final_ann.append(dict(text=a['text'], xref='paper', yref='paper', x=a['x'], y=a['y'],
                          xanchor=a.get('xanchor', 'center'), yanchor='middle', showarrow=False,
                          font=dict(family=a.get('family', TF), size=a.get('size', 28),
                                    color=a.get('color', 'black'))))
layout['annotations'] = final_ann

fig.update_layout(**layout)
fig.write_html('out.html', config={'displayModeBar': False},
               post_script="document.body.style.margin='0';document.body.style.overflow='hidden';")
